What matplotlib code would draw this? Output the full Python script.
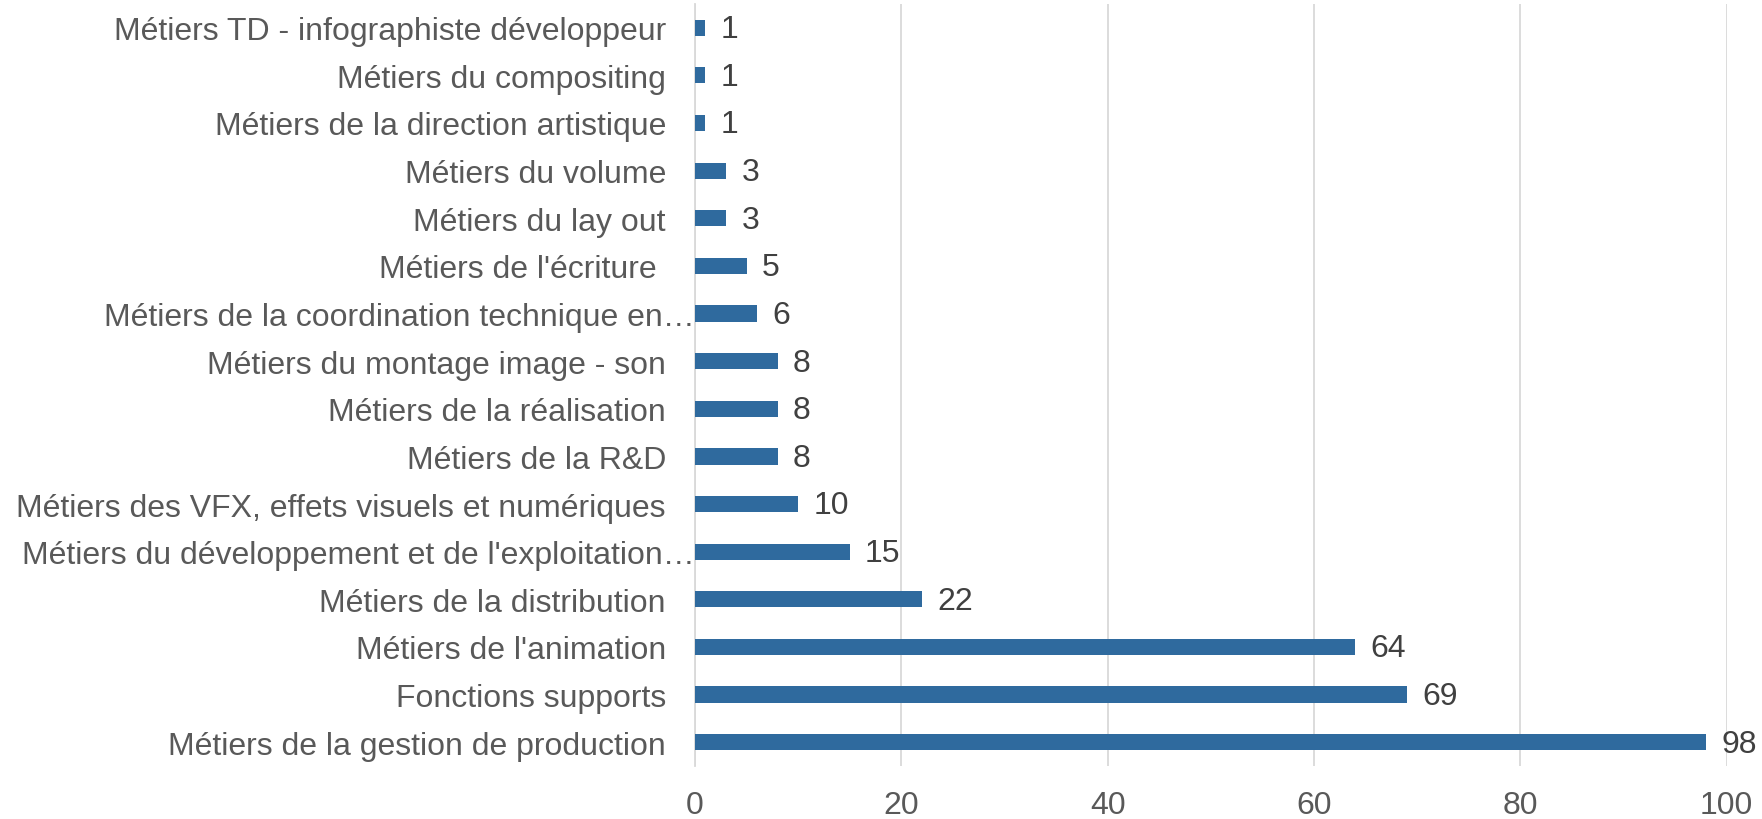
import matplotlib
matplotlib.use("Agg")
import matplotlib.pyplot as plt
import matplotlib.transforms as mtransforms

plt.rcParams["font.family"] = ["Liberation Sans", "DejaVu Sans"]

# categories, bottom to top
categories = [
    "Métiers de la gestion de production",
    "Fonctions supports",
    "Métiers de l'animation",
    "Métiers de la distribution",
    "Métiers du développement et de l'exploitation…",
    "Métiers des VFX, effets visuels et numériques",
    "Métiers de la R&D",
    "Métiers de la réalisation",
    "Métiers du montage image - son",
    "Métiers de la coordination technique en…",
    "Métiers de l'écriture ",
    "Métiers du lay out",
    "Métiers du volume",
    "Métiers de la direction artistique",
    "Métiers du compositing",
    "Métiers TD - infographiste développeur",
]
values = [98, 69, 64, 22, 15, 10, 8, 8, 8, 6, 5, 3, 3, 1, 1, 1]
xticks = [0, 20, 40, 60, 80, 100]

fig = plt.figure(figsize=(17.62, 8.2), dpi=100)
ax = fig.add_axes([0.3945, 0.0646, 0.5854, 0.9294])

pos = list(range(len(categories)))
ax.barh(pos, values, height=0.34, color="#2F6A9E", zorder=3)

for y, v in zip(pos, values):
    ax.annotate(str(v), (v, y), xytext=(11, -1), textcoords="offset points",
                va="center", ha="left", fontsize=23, color="#404040")

ax.set_xlim(0, 100)
ax.set_ylim(-0.5, len(categories) - 0.5)
ax.set_xticks(xticks)
ax.set_yticks(pos)
ax.set_yticklabels(categories)
ax.grid(axis="x", color="#D9D9D9", linewidth=1.3, zorder=0)
ax.tick_params(axis="both", length=0, labelsize=23, labelcolor="#595959")
ax.tick_params(axis="y", pad=21)
ax.tick_params(axis="x", pad=17)
for s in ["top", "right", "bottom"]:
    ax.spines[s].set_visible(False)
ax.spines["left"].set_color("#D9D9D9")
ax.spines["left"].set_linewidth(1.3)

# truncated labels run up to the axis
shift = mtransforms.ScaledTranslation(21 / 72, 0, fig.dpi_scale_trans)
for lab in ax.get_yticklabels():
    if lab.get_text().endswith("…"):
        lab.set_transform(lab.get_transform() + shift)

fig.savefig("out.png", dpi=100)
